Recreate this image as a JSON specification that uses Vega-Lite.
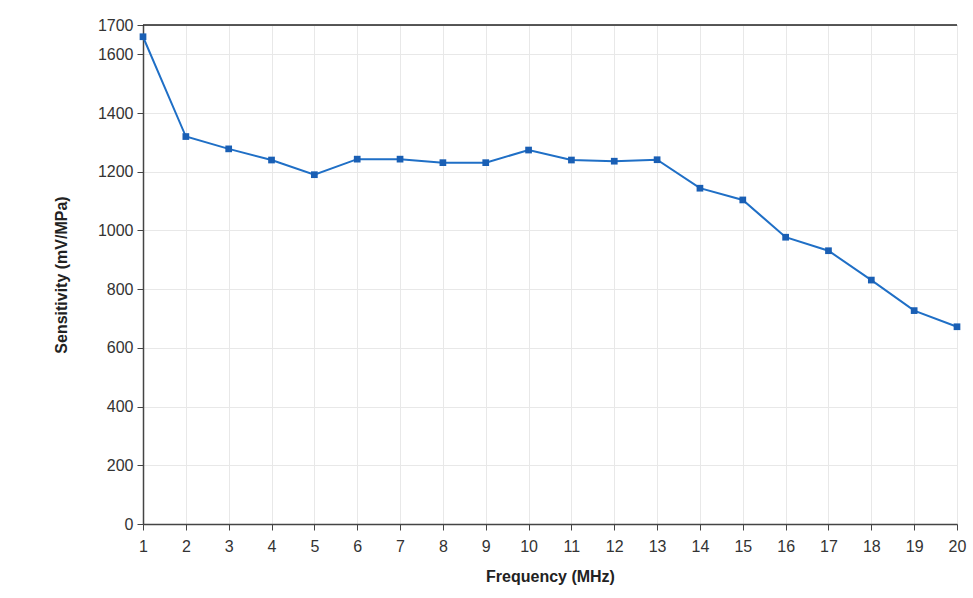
{
  "$schema": "https://vega.github.io/schema/vega-lite/v6.json",
  "width": 814,
  "height": 499,
  "autosize": "none",
  "padding": {"left": 143, "top": 25, "right": 16, "bottom": 74},
  "background": "white",
  "config": {
    "view": {"stroke": "#888888", "strokeWidth": 1},
    "axis": {
      "labelFont": "Liberation Sans",
      "titleFont": "Liberation Sans",
      "labelFontSize": 16,
      "labelColor": "#333333",
      "titleFontSize": 16,
      "titleFontWeight": "bold",
      "titleColor": "#222222",
      "gridColor": "#e8e8e8",
      "gridWidth": 1,
      "domainColor": "#444444",
      "domainWidth": 1.5,
      "tickColor": "#444444",
      "tickSize": 6,
      "labelFlush": false
    }
  },
  "data": {
    "values": [
      {"f": 1, "s": 1660},
      {"f": 2, "s": 1320},
      {"f": 3, "s": 1278},
      {"f": 4, "s": 1240},
      {"f": 5, "s": 1190},
      {"f": 6, "s": 1243},
      {"f": 7, "s": 1243},
      {"f": 8, "s": 1231},
      {"f": 9, "s": 1231},
      {"f": 10, "s": 1274},
      {"f": 11, "s": 1240},
      {"f": 12, "s": 1236},
      {"f": 13, "s": 1241},
      {"f": 14, "s": 1144},
      {"f": 15, "s": 1104},
      {"f": 16, "s": 977},
      {"f": 17, "s": 931},
      {"f": 18, "s": 831},
      {"f": 19, "s": 727},
      {"f": 20, "s": 672}
    ]
  },
  "layer": [
    {
      "mark": {"type": "rule", "color": "#222222", "strokeWidth": 1.5},
      "data": {"values": [{"y": 1700}]},
      "encoding": {"y": {"field": "y", "type": "quantitative", "scale": {"domain": [0, 1700]}}}
    },
    {
      "mark": {"type": "line", "color": "#1f6fc6", "strokeWidth": 2},
      "encoding": {
        "x": {
          "field": "f", "type": "quantitative",
          "scale": {"domain": [1, 20], "nice": false},
          "axis": {"values": [1,2,3,4,5,6,7,8,9,10,11,12,13,14,15,16,17,18,19,20], "title": "Frequency (MHz)", "titlePadding": 14, "labelPadding": 8, "format": "d"}
        },
        "y": {
          "field": "s", "type": "quantitative",
          "scale": {"domain": [0, 1700], "nice": false},
          "axis": {"values": [0,200,400,600,800,1000,1200,1400,1600,1700], "title": "Sensitivity (mV/MPa)", "titlePadding": 28, "labelPadding": 4, "format": "d"}
        }
      }
    },
    {
      "mark": {"type": "point", "shape": "square", "filled": true, "size": 45, "color": "#1a5fb4", "opacity": 1},
      "encoding": {
        "x": {"field": "f", "type": "quantitative"},
        "y": {"field": "s", "type": "quantitative"}
      }
    }
  ]
}
